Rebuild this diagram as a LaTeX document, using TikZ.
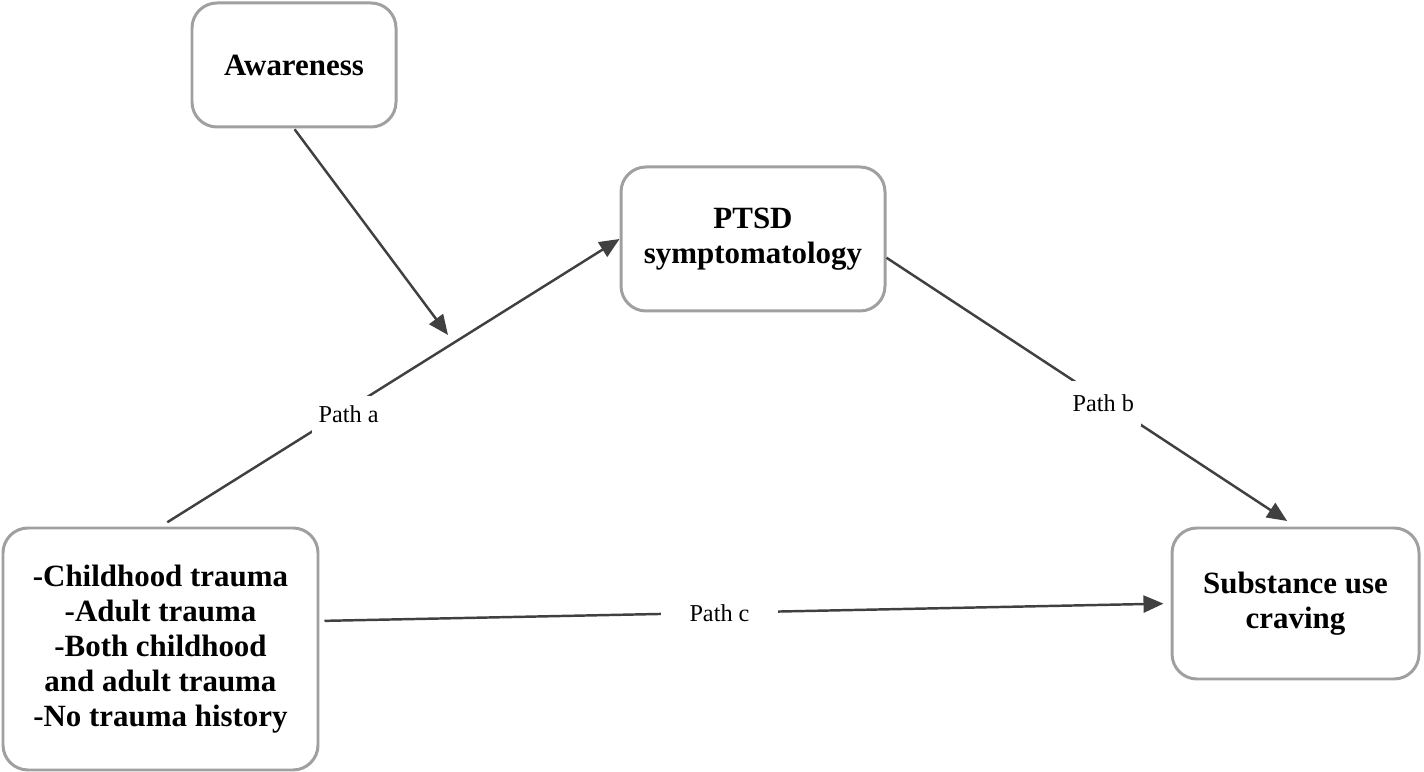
\documentclass[tikz,border=0pt]{standalone}
\usepackage{fontspec}
\setmainfont{Liberation Serif}
\usetikzlibrary{arrows.meta}
\definecolor{boxgray}{RGB}{160,160,160}
\definecolor{linegray}{RGB}{64,64,64}
\tikzset{
  varbox/.style={draw=boxgray,line width=0.85pt,rounded corners=0.25cm,align=center,
    font=\fontsize{8.8}{10}\selectfont\bfseries},
  patharrow/.style={draw=linegray,line width=0.7pt,-{Triangle[length=0.2cm,width=0.17cm]}},
  pathlabel/.style={fill=white,font=\fontsize{6.9}{8}\selectfont,inner sep=2pt}
}
\begin{document}
\begin{tikzpicture}
\useasboundingbox (0,0) rectangle (14.24,-7.72);
\node[varbox,minimum width=2.04cm,minimum height=1.24cm] (aware) at (2.94,-0.65) {Awareness};
\node[varbox,minimum width=2.64cm,minimum height=1.44cm] (ptsd) at (7.53,-2.39) {PTSD\\symptomatology};
\node[varbox,minimum width=3.15cm,minimum height=2.42cm] (trauma) at (1.605,-6.49) {-Childhood trauma\\-Adult trauma\\-Both childhood\\and adult trauma\\-No trauma history};
\node[varbox,minimum width=2.47cm,minimum height=1.51cm] (craving) at (12.955,-6.035) {Substance use\\craving};
\coordinate (modpoint) at (4.48,-3.35);
% paths
\draw[patharrow,shorten <=0.08cm] (trauma.north) -- node[pathlabel,pos=0.41,yshift=-0.06cm,inner ysep=3pt] (patha) {Path a} (ptsd.west);
\draw[patharrow,shorten >=0.1cm] (ptsd.-8) -- node[pathlabel,pos=0.53,inner ysep=4pt,yshift=-0.03cm] (pathb) {Path b} (craving.north);
\draw[patharrow,shorten <=0.05cm,shorten >=0.07cm] (trauma.10) -- node[pathlabel,pos=0.47,inner xsep=8pt] (pathc) {Path c} (craving.west);
% moderation
\draw[patharrow,shorten <=0.01cm] (aware.south) -- (modpoint);
\end{tikzpicture}
\end{document}
